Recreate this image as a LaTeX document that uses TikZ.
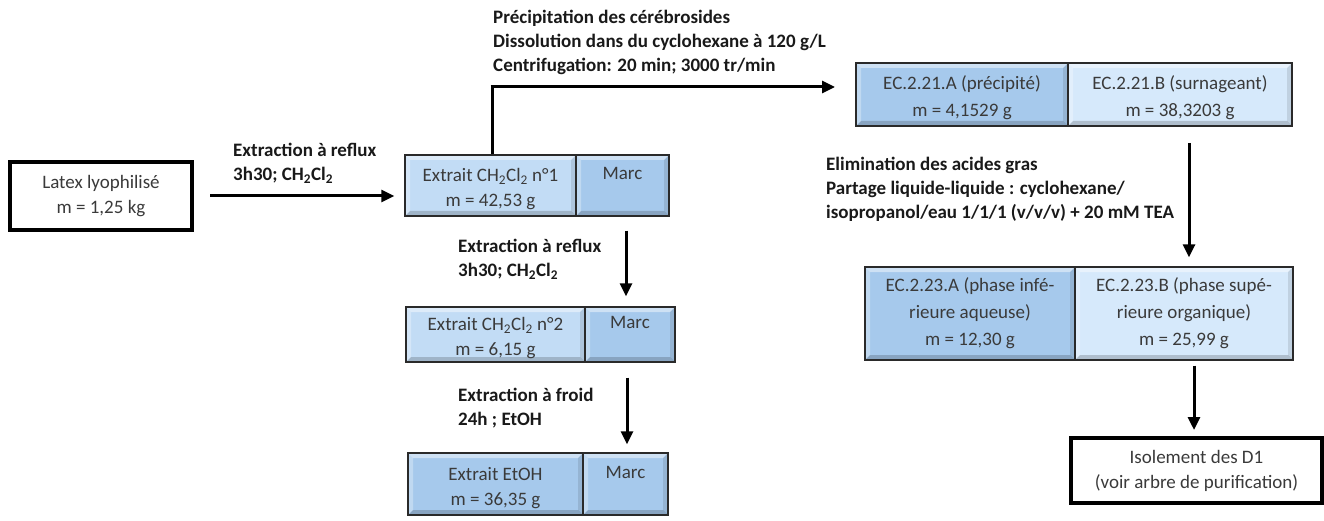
\documentclass[tikz,border=0pt]{standalone}
\usepackage{fontspec}
\setmainfont{Carlito}
\usetikzlibrary{arrows.meta}
\definecolor{txt}{HTML}{3A3A3A}
\definecolor{lightb}{HTML}{C2DCF5}
\definecolor{midb}{HTML}{A6C9EC}
\definecolor{paleb}{HTML}{D6E9FB}
\definecolor{edge}{HTML}{2A2A2A}
\newcommand\toprl{\rule{0pt}{21pt}}
\tikzset{
  bevel/.style={path picture={
    \coordinate (pnw) at (path picture bounding box.north west);
    \coordinate (pne) at (path picture bounding box.north east);
    \coordinate (psw) at (path picture bounding box.south west);
    \coordinate (pse) at (path picture bounding box.south east);
    \fill[white,opacity=0.45] (pnw) -- (pne) -- ([xshift=-5pt,yshift=-5pt]pne) -- ([xshift=5pt,yshift=-5pt]pnw) -- cycle;
    \fill[white,opacity=0.3] (pnw) -- (psw) -- ([xshift=5pt,yshift=5pt]psw) -- ([xshift=5pt,yshift=-5pt]pnw) -- cycle;
    \fill[black,opacity=0.18] (psw) -- (pse) -- ([xshift=-5pt,yshift=5pt]pse) -- ([xshift=5pt,yshift=5pt]psw) -- cycle;
    \fill[black,opacity=0.1] (pne) -- (pse) -- ([xshift=-5pt,yshift=5pt]pse) -- ([xshift=-5pt,yshift=-5pt]pne) -- cycle;
  }},
  cell/.style={draw=edge,line width=1.4pt,bevel,inner sep=0pt,align=center,text=txt,
    font=\fontsize{19}{25}\selectfont},
  plainbox/.style={draw=black,line width=4pt,inner sep=0pt,align=center,text=txt,
    font=\fontsize{19}{25}\selectfont,fill=white},
  lab/.style={anchor=west,align=left,inner sep=0pt,font=\bfseries\fontsize{19}{24}\selectfont,text=black!90},
  arr/.style={line width=3pt,-{Triangle[length=13pt,width=12pt]}},
}
\begin{document}
\begin{tikzpicture}[x=1pt,y=-1pt]
\useasboundingbox (0,0) rectangle (1324,521);
% left column
\node[plainbox,minimum width=182pt,minimum height=68pt] (latex) at (101,196) {Latex lyophilisé\\m = 1,25 kg};
\node[cell,fill=lightb,minimum width=171pt,minimum height=61pt] (e1) at (490.5,185.5) {\toprl Extrait CH\textsubscript{2}Cl\textsubscript{2} n°1\\m = 42,53 g};
\node[cell,fill=midb,minimum width=93pt,minimum height=61pt] (m1) at (622.5,185.5) {\toprl Marc\\\strut};
\node[cell,fill=lightb,minimum width=179pt,minimum height=55pt] (e2) at (495.5,334.5) {\toprl Extrait CH\textsubscript{2}Cl\textsubscript{2} n°2\\m = 6,15 g};
\node[cell,fill=midb,minimum width=90pt,minimum height=55pt] (m2) at (630,334.5) {\toprl Marc\\\strut};
\node[cell,fill=midb,minimum width=175pt,minimum height=62pt] (e3) at (495.5,484) {\toprl Extrait EtOH\\m = 36,35 g};
\node[cell,fill=midb,minimum width=85pt,minimum height=62pt] (m3) at (625.5,484) {\toprl Marc\\\strut};
% right column
\node[cell,fill=midb,minimum width=212pt,minimum height=63pt,font=\fontsize{19}{27}\selectfont] (a21) at (962,94.5) {\toprl EC.2.21.A (précipité)\\m = 4,1529 g};
\node[cell,fill=paleb,minimum width=224pt,minimum height=63pt,font=\fontsize{19}{27}\selectfont] (b21) at (1180,94.5) {\toprl EC.2.21.B (surnageant)\\m = 38,3203 g};
\node[cell,fill=midb,minimum width=210pt,minimum height=93pt,font=\fontsize{19}{27}\selectfont] (a23) at (970,313.5) {EC.2.23.A (phase infé-\\rieure aqueuse)\\m = 12,30 g};
\node[cell,fill=paleb,minimum width=218pt,minimum height=93pt,font=\fontsize{19}{27}\selectfont] (b23) at (1184,313.5) {EC.2.23.B (phase supé-\\rieure organique)\\m = 25,99 g};
\node[plainbox,minimum width=251pt,minimum height=65pt] (iso) at (1196.5,470.5) {Isolement des D1\\(voir arbre de purification)};
% labels
\node[lab] (l1) at (233,163) {Extraction à reflux\\3h30; CH\textsubscript{2}Cl\textsubscript{2}};
\node[lab] (l2) at (493,42) {Précipitation des cérébrosides\\Dissolution dans du cyclohexane à 120 g/L\\Centrifugation: 20 min; 3000 tr/min};
\node[lab] (l3) at (458,259.5) {Extraction à reflux\\3h30; CH\textsubscript{2}Cl\textsubscript{2}};
\node[lab] (l4) at (458,408) {Extraction à froid\\24h ; EtOH};
\node[lab] (l5) at (826,189) {Elimination des acides gras\\Partage liquide-liquide : cyclohexane/\\isopropanol/eau 1/1/1 (v/v/v) + 20 mM TEA};
% connectors
\coordinate (up) at (492,87);
\coordinate (tipr) at (835,87);
\coordinate (s1) at ([xshift=3.5pt,yshift=-14pt]m1.south);
\coordinate (t1) at ([yshift=10pt]m2.north);
\coordinate (s2) at ([xshift=-3pt,yshift=-15pt]m2.south);
\coordinate (t2) at ([yshift=8pt]m3.north);
\coordinate (s3) at (1189,143);
\coordinate (t3) at ([yshift=9pt]b23.north);
\coordinate (s4) at ([xshift=10pt,yshift=-5pt]b23.south);
\coordinate (t4) at ([yshift=6pt]iso.north);
\draw[arr] ([xshift=16pt]latex.east) -- ([xshift=-10pt]latex.east -| e1.west);
\draw[line width=3pt] (up |- e1.north) -- (up);
\draw[arr] ([xshift=-1.5pt]up) -- (tipr);
\draw[arr] (s1) -- (s1 |- t1);
\draw[arr] (s2) -- (s2 |- t2);
\draw[arr] (s3) -- (s3 |- t3);
\draw[arr] (s4) -- (s4 |- t4);
\end{tikzpicture}
\end{document}
